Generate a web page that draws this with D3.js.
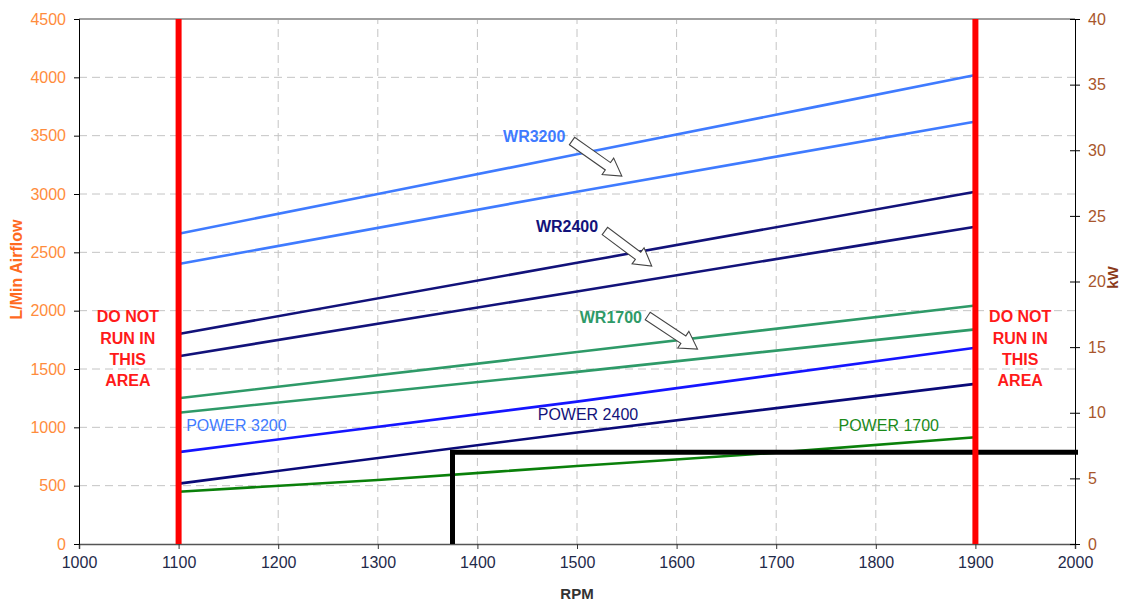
<!DOCTYPE html>
<html><head><meta charset="utf-8">
<script src="https://cdn.jsdelivr.net/npm/d3@7/dist/d3.min.js"></script>
<style>
body{margin:0;background:#fff;}
svg{display:block;font-family:"Liberation Sans",Arial,sans-serif;}
</style></head>
<body><svg id="c" width="1131" height="604"></svg>
<script>
// ---- data ----
const rpmTicks = [1000,1100,1200,1300,1400,1500,1600,1700,1800,1900,2000];
const flowTicks = [0,500,1000,1500,2000,2500,3000,3500,4000,4500];
const kwTicks = [0,5,10,15,20,25,30,35,40];
const rpm3 = [1100,1500,1900];
const rpm5 = [1100,1300,1500,1700,1900];
const wr3200a = [2660,3340,4020];
const wr3200b = [2400,3020,3620];
const wr2400a = [1800,2410,3020];
const wr2400b = [1610,2165,2720];
const wr1700a = [1250,1645,2045];
const wr1700b = [1125,1475,1840];
const power3200 = [7.0,10.85,14.95];   // kW
const power2400 = [4.6,8.5,12.2];      // kW
const power1700 = [3.98,4.88,5.94,6.96,8.13]; // kW
const limitRpm = [1100,1900];
const opRpm = 1375, opKw = 7.0;

const series = [
  {x:rpm3, y:wr3200a, axis:"flow", color:"#3f7bff"},
  {x:rpm3, y:wr3200b, axis:"flow", color:"#3f7bff"},
  {x:rpm3, y:wr2400a, axis:"flow", color:"#12127a"},
  {x:rpm3, y:wr2400b, axis:"flow", color:"#12127a"},
  {x:rpm3, y:wr1700a, axis:"flow", color:"#2e9a68"},
  {x:rpm3, y:wr1700b, axis:"flow", color:"#2e9a68"},
  {x:rpm3, y:power3200, axis:"kw", color:"#1515ff"},
  {x:rpm3, y:power2400, axis:"kw", color:"#0a0a78"},
  {x:rpm5, y:power1700, axis:"kw", color:"#0a800a"}
];
const labels = [
  {t:"WR3200", rpm:1457, v:3497, color:"#3f7bff", bold:true},
  {t:"WR2400", rpm:1490, v:2726, color:"#12127a", bold:true},
  {t:"WR1700", rpm:1534, v:1946, color:"#2e9a68", bold:true},
  {t:"POWER 3200", rpm:1158, v:1020, color:"#3f7bff", bold:false},
  {t:"POWER 2400", rpm:1511, v:1114, color:"#12127a", bold:false},
  {t:"POWER 1700", rpm:1813, v:1020, color:"#1a8a1a", bold:false}
];
const arrows = [
  {r0:1495, v0:3454, r1:1545, v1:3154},
  {r0:1528, v0:2683, r1:1575, v1:2383},
  {r0:1571, v0:1954, r1:1621, v1:1671}
];
const warnLines = ["DO NOT","RUN IN","THIS","AREA"];
const warnRpm = [1049,1945];
const warnFlow = [1948,1760,1585,1405];

// ---- layout ----
const W=1131,H=604, m={l:79,r:56,t:19,b:60};
const svg=d3.select("#c");
const x=d3.scaleLinear().domain([1000,2000]).range([m.l,W-m.r]);
const y=d3.scaleLinear().domain([0,4500]).range([H-m.b,m.t]);
const yk=d3.scaleLinear().domain([0,40]).range([H-m.b,m.t]);

// grid
const g=svg.append("g");
g.selectAll(".gx").data(rpmTicks.slice(1,-1)).join("line")
  .attr("x1",d=>x(d)).attr("x2",d=>x(d)).attr("y1",y(0)).attr("y2",y(4500))
  .attr("stroke","#c4c4c4").attr("stroke-dasharray","8,5");
g.selectAll(".gy").data(flowTicks.slice(1,-1)).join("line")
  .attr("x1",x(1000)).attr("x2",x(2000)).attr("y1",d=>y(d)).attr("y2",d=>y(d))
  .attr("stroke","#c4c4c4").attr("stroke-dasharray","8,5");
svg.append("line").attr("x1",x(1000)).attr("x2",x(2000)).attr("y1",y(4500)).attr("y2",y(4500))
  .attr("stroke","#a0a0a0").attr("stroke-width",2);

// axes
const fs=16;
const ax=svg.append("g").attr("transform",`translate(0,${y(0)})`)
  .call(d3.axisBottom(x).tickValues(rpmTicks).tickSize(5).tickPadding(8).tickFormat(d3.format("d")));
ax.select(".domain").attr("stroke","#555").attr("stroke-width",1.5);
ax.selectAll(".tick line").attr("stroke","#333");
ax.selectAll("text").attr("fill","#1f2a4a").attr("font-size",fs).attr("font-family","Liberation Sans, Arial");

const al=svg.append("g").attr("transform",`translate(${x(1000)},0)`)
  .call(d3.axisLeft(y).tickValues(flowTicks).tickSize(5).tickPadding(8).tickFormat(d3.format("d")));
al.select(".domain").attr("stroke","#000");
al.selectAll(".tick line").attr("stroke","#000");
al.selectAll("text").attr("fill","#ff8c3c").attr("font-size",fs).attr("font-family","Liberation Sans, Arial");

const ar=svg.append("g").attr("transform",`translate(${x(2000)},0)`)
  .call(d3.axisRight(yk).tickValues(kwTicks).tickSizeInner(5).tickSizeOuter(0).tickPadding(8).tickFormat(d3.format("d")));
ar.select(".domain").attr("stroke","#000");
ar.selectAll(".tick line").attr("stroke","#000").attr("x1",-5);
ar.selectAll("text").attr("fill","#a8562c").attr("font-size",fs).attr("font-family","Liberation Sans, Arial");

// axis titles
svg.append("text").attr("x",x(1500)).attr("y",599).attr("text-anchor","middle")
  .attr("font-weight","bold").attr("font-size",15).attr("fill","#333").text("RPM");
svg.append("text").attr("transform",`translate(22,${(y(0)+y(4500))/2-12}) rotate(-90)`)
  .attr("text-anchor","middle").attr("font-weight","bold").attr("font-size",16).attr("fill","#ff6a1f").text("L/Min Airflow");
svg.append("text").attr("transform",`translate(1118,${(y(0)+y(4500))/2-4}) rotate(-90)`)
  .attr("text-anchor","middle").attr("font-weight","bold").attr("font-size",15).attr("fill","#8b3a1a").text("kW");

// series
series.forEach(s=>{
  const ys = s.axis==="flow"?y:yk;
  const pts = s.x.map((r,i)=>[x(r),ys(s.y[i])]);
  svg.append("path").attr("d",d3.line().curve(d3.curveMonotoneX)(pts))
    .attr("fill","none").attr("stroke",s.color).attr("stroke-width",2.6);
});

// operating point lines
svg.append("path").attr("d",`M${x(opRpm)},${yk(0)}V${yk(opKw)}H${x(2000)+3}`)
  .attr("fill","none").attr("stroke","#000").attr("stroke-width",5);

// red limits
svg.selectAll(".lim").data(limitRpm).join("line")
  .attr("x1",d=>x(d)).attr("x2",d=>x(d)).attr("y1",y(0)).attr("y2",y(4500))
  .attr("stroke","#ff0000").attr("stroke-width",6);

// labels
labels.forEach(l=>{
  svg.append("text").attr("x",x(l.rpm)).attr("y",y(l.v)).attr("dy","0.36em")
    .attr("text-anchor","middle").attr("font-size",l.bold?16:16)
    .attr("font-weight",l.bold?"bold":"normal").attr("fill",l.color).text(l.t);
});

// block arrows
arrows.forEach(a=>{
  const x0=x(a.r0),y0=y(a.v0),x1=x(a.r1),y1=y(a.v1);
  const dx=x1-x0,dy=y1-y0,L=Math.hypot(dx,dy),ux=dx/L,uy=dy/L,nx=-uy,ny=ux;
  const sw=4.5,hw=10,hl=17;
  const bx=x1-ux*hl,by=y1-uy*hl;
  const p=[[x0+nx*sw,y0+ny*sw],[bx+nx*sw,by+ny*sw],[bx+nx*hw,by+ny*hw],[x1,y1],
           [bx-nx*hw,by-ny*hw],[bx-nx*sw,by-ny*sw],[x0-nx*sw,y0-ny*sw]];
  svg.append("polygon").attr("points",p.map(q=>q.join(",")).join(" "))
    .attr("fill","#fff").attr("stroke","#444").attr("stroke-width",1.1);
});

// warnings
warnRpm.forEach(r=>{
  warnLines.forEach((t,i)=>{
    svg.append("text").attr("x",x(r)).attr("y",y(warnFlow[i])).attr("dy","0.36em")
      .attr("text-anchor","middle").attr("font-weight","bold").attr("font-size",16)
      .attr("fill","#ff1a1a").text(t);
  });
});
</script></body></html>
